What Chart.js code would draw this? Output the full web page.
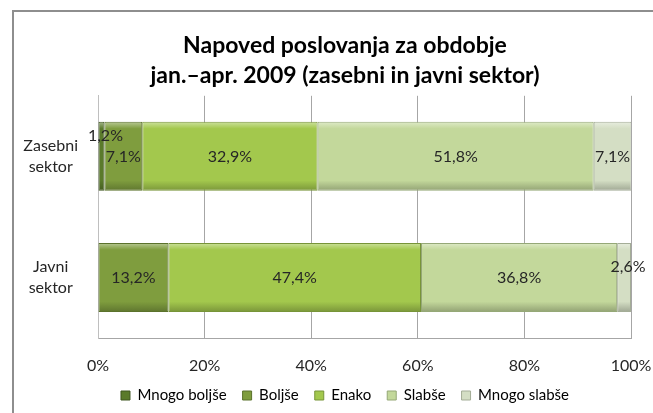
<!DOCTYPE html>
<html lang="sl">
<head>
<meta charset="UTF-8">
<title>Napoved poslovanja</title>
<script src="https://cdn.jsdelivr.net/npm/chart.js@4/dist/chart.umd.min.js"></script>
<style>
  html, body { margin: 0; padding: 0; background: #fff; overflow: hidden; }
  .frame {
    position: absolute; left: 12px; top: 10px;
    width: 662px; height: 401px;
    border-left: 2px solid #8e8e8e; border-top: 2px solid #8e8e8e;
  }
</style>
</head>
<body>
<div class="frame"><canvas id="chart"></canvas></div>
<script>
const categories = [['Zasebni', 'sektor'], ['Javni', 'sektor']];
const seriesNames = ['Mnogo boljše', 'Boljše', 'Enako', 'Slabše', 'Mnogo slabše'];
const mnogoBoljse = [1.2, 0];
const boljse = [7.1, 13.2];
const enako = [32.9, 47.4];
const slabse = [51.8, 36.8];
const mnogoSlabse = [7.1, 2.6];
const xTicks = [0, 20, 40, 60, 80, 100];

const fills = ['#5a7a2b', '#7f9d3e', '#a3c84d', '#c3d89b', '#d4dec4'];
const edges = ['#3f5620', '#5b722c', '#779438', '#95a877', '#a4ad97'];
const font = 'Lato, "DejaVu Sans", sans-serif';
const barPct = 0.57;

function mix(hex, to, t) {
  const n = parseInt(hex.slice(1), 16);
  const c = [n >> 16, (n >> 8) & 255, n & 255].map(v => Math.round(v + (to - v) * t));
  return 'rgb(' + c.join(',') + ')';
}

// light top edge, darker bottom edge, like the bevelled bars of the original
function bevel(i) {
  return (c) => {
    const chart = c.chart;
    const ys = chart.scales.y;
    if (!ys || c.dataIndex === undefined || !chart.chartArea) return fills[i];
    const cy = ys.getPixelForValue(c.dataIndex);
    const h = (ys.bottom - ys.top) / chart.data.labels.length * barPct;
    const g = chart.ctx.createLinearGradient(0, cy - h / 2, 0, cy + h / 2);
    g.addColorStop(0, mix(fills[i], 255, 0.45));
    g.addColorStop(0.1, fills[i]);
    g.addColorStop(0.85, fills[i]);
    g.addColorStop(1, mix(fills[i], 0, 0.25));
    return g;
  };
}

// value labels in the middle of each segment, tiny segments lifted a bit
const labelPlugin = {
  id: 'segLabels',
  afterDatasetsDraw(chart) {
    const ctx = chart.ctx;
    ctx.save();
    ctx.font = '16px ' + font;
    ctx.fillStyle = '#262626';
    ctx.textAlign = 'center';
    ctx.textBaseline = 'middle';
    chart.data.datasets.forEach((ds, i) => {
      chart.getDatasetMeta(i).data.forEach((bar, j) => {
        const v = ds.data[j];
        if (!v) return;
        const txt = v.toFixed(1).replace('.', ',') + '%';
        let x = (bar.x + bar.base) / 2;
        let y = bar.y;
        if (v < 2) { x += 4; y -= 21; }
        else if (v < 3) { x += 4; y -= 11; }
        ctx.fillText(txt, x, y);
      });
    });
    ctx.restore();
  }
};

new Chart(document.getElementById('chart'), {
  type: 'bar',
  data: {
    labels: categories,
    datasets: [mnogoBoljse, boljse, enako, slabse, mnogoSlabse].map((d, i) => ({
      label: seriesNames[i],
      data: d,
      backgroundColor: bevel(i),
      borderColor: edges[i],
      borderWidth: 1,
      borderSkipped: false,
      barPercentage: barPct,
      categoryPercentage: 1
    }))
  },
  options: {
    indexAxis: 'y',
    responsive: true,
    maintainAspectRatio: false,
    animation: false,
    layout: { padding: 0 },
    plugins: {
      title: {
        display: true,
        text: ['Napoved poslovanja za obdobje', 'jan.\u2013apr. 2009 (zasebni in javni sektor)'],
        color: '#000',
        font: { family: font, size: 23, weight: 'bold', lineHeight: 1.3 },
        padding: { top: 19, bottom: 5 }
      },
      legend: {
        position: 'bottom',
        labels: {
          color: '#262626',
          font: { family: font, size: 15 },
          boxWidth: 9,
          boxHeight: 9,
          padding: 16,
          generateLabels(chart) {
            return chart.data.datasets.map((ds, i) => ({
              text: ds.label,
              fillStyle: fills[i],
              strokeStyle: edges[i],
              lineWidth: 1,
              datasetIndex: i
            }));
          }
        }
      },
      tooltip: { enabled: false }
    },
    scales: {
      x: {
        stacked: true,
        min: 0,
        max: 100,
        afterBuildTicks(s) { s.ticks = xTicks.map(v => ({ value: v })); },
        afterFit(s) { s.height = 34; },
        ticks: {
          color: '#262626',
          font: { family: font, size: 16 },
          padding: 18,
          callback: v => v + '%'
        },
        grid: { color: '#a6a6a6', drawTicks: false },
        border: { color: '#a6a6a6' }
      },
      y: {
        stacked: true,
        afterFit(s) { s.width = 84; },
        ticks: {
          color: '#262626',
          font: { family: font, size: 16, lineHeight: 1.35 },
          crossAlign: 'center',
          padding: 12
        },
        grid: { display: false },
        border: { color: '#bfbfbf' }
      },
      // empty right-hand strip so the title stays centred on the whole frame
      yRight: {
        type: 'category',
        position: 'right',
        afterFit(s) { s.width = 45; },
        ticks: { display: false },
        grid: { display: false },
        border: { display: false }
      }
    }
  },
  plugins: [labelPlugin]
});
</script>
</body>
</html>
